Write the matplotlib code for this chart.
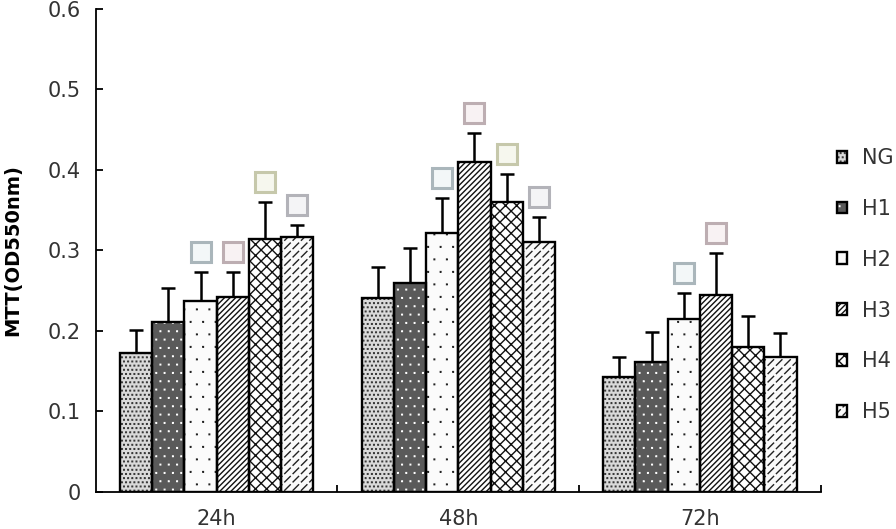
import warnings
import numpy as np
import matplotlib
matplotlib.use('Agg')
import matplotlib.pyplot as plt
import matplotlib.hatch as mhatch
from matplotlib.path import Path
from matplotlib.patches import Patch
from matplotlib.legend_handler import HandlerTuple

warnings.filterwarnings('ignore')

times = ['24h', '48h', '72h']
groups = ['NG', 'H1', 'H2', 'H3', 'H4', 'H5']

means = {
    'NG': [0.173, 0.241, 0.143],
    'H1': [0.211, 0.260, 0.161],
    'H2': [0.237, 0.322, 0.215],
    'H3': [0.242, 0.410, 0.245],
    'H4': [0.314, 0.360, 0.180],
    'H5': [0.317, 0.310, 0.168],
}
errs = {
    'NG': [0.028, 0.038, 0.025],
    'H1': [0.042, 0.043, 0.038],
    'H2': [0.036, 0.043, 0.032],
    'H3': [0.031, 0.036, 0.052],
    'H4': [0.046, 0.035, 0.039],
    'H5': [0.015, 0.032, 0.030],
}
# which bars carry a significance box
marks = {
    'NG': [0, 0, 0],
    'H1': [0, 0, 0],
    'H2': [1, 1, 1],
    'H3': [1, 1, 1],
    'H4': [1, 1, 0],
    'H5': [1, 1, 0],
}


# short dashed diagonal hatch ('d') for H5
class DashHatch(mhatch.HatchPatternBase):
    def __init__(self, hatch, density):
        self.n = int(hatch.count('d') * density)
        self.num_vertices = 2 * self.n * self.n

    def set_vertices_and_codes(self, vertices, codes):
        n = self.n
        g = (np.arange(n) + 0.5) / n
        xx, yy = np.meshgrid(g, g)
        d = 0.33 / n
        xs = xx.ravel()
        ys = yy.ravel()
        vertices[0::2, 0] = xs - d
        vertices[0::2, 1] = ys - d
        vertices[1::2, 0] = xs + d
        vertices[1::2, 1] = ys + d
        codes[0::2] = Path.MOVETO
        codes[1::2] = Path.LINETO


# tiny dots ('p'), 4 rows per 'p', staggered
class DotHatch(mhatch.HatchPatternBase):
    def __init__(self, hatch, density):
        self.n = hatch.count('p') * 4
        self.num_vertices = 5 * self.n * self.n

    def set_vertices_and_codes(self, vertices, codes):
        n = self.n
        g = (np.arange(n) + 0.25) / n
        xx, yy = np.meshgrid(g, g)
        xx = xx + (np.arange(n)[:, None] % 2) * 0.5 / n
        xs = xx.ravel()
        ys = yy.ravel()
        s = 0.003
        offs = [(-s, -s), (s, -s), (s, s), (-s, s), (-s, -s)]
        for k, (ox, oy) in enumerate(offs):
            vertices[k::5, 0] = xs + ox
            vertices[k::5, 1] = ys + oy
        codes[0::5] = Path.MOVETO
        codes[1::5] = Path.LINETO
        codes[2::5] = Path.LINETO
        codes[3::5] = Path.LINETO
        codes[4::5] = Path.CLOSEPOLY


mhatch._hatch_types.append(DashHatch)
mhatch._hatch_types.append(DotHatch)

plt.rcParams['hatch.linewidth'] = 1.0

#            face       hatch       hatch colour
styles = {
    'NG': ('#dadada', 'pppppp', '#3a3a3a'),
    'H1': ('#5a5a5a', 'ppp', '#ffffff'),
    'H2': ('#fbfbfb', 'pp', '#222222'),
    'H3': ('#ffffff', '//////', '#111111'),
    'H4': ('#ffffff', 'xxx', '#111111'),
    'H5': ('#fafafa', 'dd', '#222222'),
}
box_colors = {'H2': '#aab6bb', 'H3': '#bdaeb2', 'H4': '#c6c8ab', 'H5': '#b3b3b9'}
box_fill = {'H2': '#f3f7f8', 'H3': '#f8f2f3', 'H4': '#f6f7ee', 'H5': '#f4f4f6'}

fig = plt.figure(figsize=(8.96, 5.29), dpi=100)
ax = fig.add_axes([0.107, 0.070, 0.809, 0.913])

x = np.arange(len(times))
w = 0.8 / len(groups)
handles = []
for i, g in enumerate(groups):
    pos = x + (i - 2.5) * w
    fc, hatch, hc = styles[g]
    ax.bar(pos, means[g], w, color=fc, hatch=hatch, edgecolor=hc, linewidth=0, zorder=2)
    ax.bar(pos, means[g], w, fill=False, edgecolor='black', linewidth=1.7, zorder=3)
    e = np.array(errs[g])
    eb = ax.errorbar(pos, means[g], yerr=[np.zeros_like(e), e], fmt='none', ecolor='black',
                     elinewidth=1.8, capsize=5, capthick=1.8, zorder=1)
    eb[1][0].set_visible(False)
    for j in range(len(times)):
        if marks[g][j]:
            ax.plot(pos[j], means[g][j] + e[j] + 0.025, marker='s', ms=14, mew=2.2,
                    mec=box_colors[g], mfc=box_fill[g], zorder=4)
    h1 = Patch(facecolor=fc, hatch=hatch, edgecolor=hc, linewidth=0)
    h2 = Patch(fill=False, edgecolor='black', linewidth=1.7)
    handles.append((h1, h2))

ax.set_xlim(-0.5, 2.5)
ax.set_ylim(0, 0.6)
ax.spines['top'].set_visible(False)
ax.spines['right'].set_visible(False)
ax.spines['left'].set_linewidth(1.3)
ax.spines['bottom'].set_linewidth(1.3)

ax.set_yticks(np.arange(0, 0.61, 0.1))
ax.set_yticklabels(['0', '0.1', '0.2', '0.3', '0.4', '0.5', '0.6'])
ax.set_xticks(x)
ax.set_xticklabels(times)
ax.set_xticks([0.5, 1.5, 2.5], minor=True)
ax.tick_params(axis='x', which='major', length=0, pad=12, labelsize=15)
ax.tick_params(axis='x', which='minor', direction='in', length=5, width=1.3)
ax.tick_params(axis='y', direction='in', length=5, width=1.3, pad=11, labelsize=15)
for t in ax.get_xticklabels() + ax.get_yticklabels():
    t.set_color('#333333')

ax.set_ylabel('MTT(OD550nm)', fontsize=14, fontweight='bold', labelpad=18)

fig.legend(handles, groups, handler_map={tuple: HandlerTuple(ndivide=1)},
           loc='upper left', bbox_to_anchor=(837 / 896, 0.72), frameon=False,
           borderpad=0, borderaxespad=0,
           fontsize=15, labelspacing=1.48, handlelength=0.5, handleheight=0.5,
           handletextpad=0.7, labelcolor='#333333')

fig.savefig('out.png', dpi=100)
